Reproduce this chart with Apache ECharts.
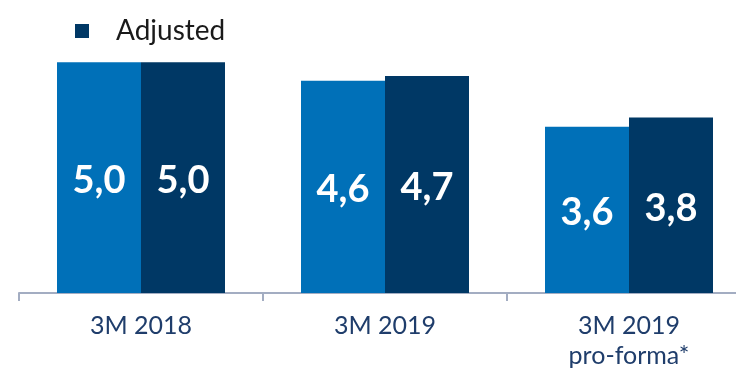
<!DOCTYPE html>
<html>
<head>
<meta charset="utf-8">
<script src="https://cdn.jsdelivr.net/npm/echarts@6/dist/echarts.min.js"></script>
<style>
html,body{margin:0;padding:0;background:#fff;}
#c{width:736px;height:373px;}
</style>
</head>
<body>
<div id="c"></div>
<script>
var categories = ['3M 2018', '3M 2019', '3M 2019\npro-forma*'];
var reported = [5.0, 4.6, 3.6];
var adjusted = [5.0, 4.7, 3.8];
var legendItems = ['Adjusted'];

var chart = echarts.init(document.getElementById('c'));
var fmt = function (p) { return p.value.toFixed(1).replace('.', ','); };
chart.setOption({
  animation: false,
  legend: {
    data: legendItems,
    left: 75,
    top: 17,
    padding: 0,
    itemWidth: 14,
    itemHeight: 14,
    icon: 'rect',
    textStyle: { fontFamily: 'Lato', fontSize: 28, color: '#1a1a1a', padding: [0, 0, 0, 22] }
  },
  grid: { left: 19, width: 732, top: 16, bottom: 80, outerBoundsMode: 'none', containLabel: false },
  xAxis: {
    type: 'category',
    data: categories,
    axisLine: { lineStyle: { color: '#A3ADC2', width: 2 } },
    axisTick: { show: true, length: 8, lineStyle: { color: '#A3ADC2', width: 2 } },
    axisLabel: { color: '#1F3D6B', fontFamily: 'Lato', fontSize: 25, lineHeight: 30, margin: 18 }
  },
  yAxis: { type: 'value', min: 0, max: 6, show: false, splitLine: { show: false } },
  series: [
    {
      name: 'Reported', type: 'bar', data: reported, barWidth: 84, barGap: '0%',
      itemStyle: { color: '#0070B8' },
      label: { show: true, position: 'inside', offset: [0, 3], formatter: fmt, color: '#fff', fontFamily: 'Lato', fontWeight: 'bold', fontSize: 38 }
    },
    {
      name: 'Adjusted', type: 'bar', data: adjusted, barWidth: 84, barGap: '0%',
      itemStyle: { color: '#003865' },
      label: { show: true, position: 'inside', offset: [0, 3], formatter: fmt, color: '#fff', fontFamily: 'Lato', fontWeight: 'bold', fontSize: 38 }
    }
  ]
});
</script>
</body>
</html>
